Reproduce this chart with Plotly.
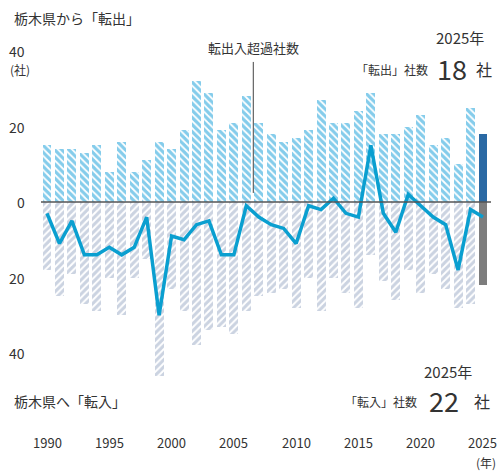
import plotly.graph_objects as go

years = list(range(1990, 2026))
outflow = [15, 14, 14, 13, 15, 8, 16, 8, 11, 16, 14, 19, 32, 29, 19, 21, 28,
           21, 18, 16, 17, 19, 27, 21, 21, 24, 29, 18, 18, 20, 23, 15, 17, 10, 25, 18]
inflow = [18, 25, 19, 27, 29, 20, 30, 20, 15, 46, 23, 29, 38, 34, 33, 35, 29,
          25, 24, 23, 28, 20, 29, 20, 24, 28, 14, 21, 26, 18, 24, 19, 23, 28, 27, 22]
net = [o - i for o, i in zip(outflow, inflow)]
xtick_years = [1990, 1995, 2000, 2005, 2010, 2015, 2020, 2025]
ytick_vals = [40, 20, 0, -20, -40]
ytick_text = ["40", "20", "0", "20", "40"]

FONT = "Noto Sans CJK JP, Noto Sans, sans-serif"
TXT = "#333333"

W, H = 501, 472
ML, MR, MT, MB = 41, 10, 30, 52
PW, PH = W - ML - MR, H - MT - MB


def px(x):
    return (x - ML) / PW


def py(y):
    return (H - MB - y) / PH


n = len(years)
up_colors = ["#84cceb"] * (n - 1) + ["#2a69a4"]
up_shapes = ["\\"] * (n - 1) + [""]
dn_colors = ["#cbd3e1"] * (n - 1) + ["#7d7d7d"]
dn_shapes = ["/"] * (n - 1) + [""]

fig = go.Figure()
fig.add_trace(go.Bar(
    x=years, y=outflow, width=0.72,
    marker=dict(color=up_colors, line=dict(width=0),
                pattern=dict(shape=up_shapes, fgcolor="#0798d2", bgcolor=up_colors,
                             fgopacity=1, size=5, solidity=0.65, fillmode="replace")),
    hoverinfo="skip", showlegend=False))
fig.add_trace(go.Bar(
    x=years, y=[-v for v in inflow], width=0.72,
    marker=dict(color=dn_colors, line=dict(width=0),
                pattern=dict(shape=dn_shapes, fgcolor="#9eafc8", bgcolor=dn_colors,
                             fgopacity=1, size=5, solidity=0.6, fillmode="replace")),
    hoverinfo="skip", showlegend=False))
fig.add_trace(go.Scatter(
    x=years, y=net, mode="lines",
    line=dict(color="#0a9fd0", width=3.5),
    hoverinfo="skip", showlegend=False))

x0 = 1990 - (47 - ML) / 12.457
x1 = 1990 + (W - MR - 47) / 12.457
y_top = (202 - MT) / 3.775
y_bot = -(H - MB - 202) / 3.775

shapes = [
    dict(type="line", xref="paper", yref="y", x0=0, x1=1, y0=0, y1=0,
         line=dict(color="#555555", width=1.5), layer="above"),
    dict(type="line", xref="x", yref="y", x0=2006.56, x1=2006.56, y0=2.4, y1=37.1,
         line=dict(color="#444444", width=1), layer="above"),
]

ann = []


def A(text, x, y, size, xanchor="center", color=TXT, xref="paper", yref="paper"):
    ann.append(dict(text=text, x=x, y=y, xref=xref, yref=yref, showarrow=False,
                    xanchor=xanchor, yanchor="middle",
                    font=dict(family=FONT, size=size, color=color)))


A("栃木県から「転出」", px(12), py(18), 14, "left")
A("(社)", px(20), py(70), 12)
for v, t in zip(ytick_vals, ytick_text):
    ann.append(dict(text=t, x=px(27), y=v, xref="paper", yref="y", showarrow=False,
                    xanchor="right", yanchor="middle",
                    font=dict(family=FONT, size=14, color=TXT)))
A("転出入超過社数", px(253), py(48), 13)
A("2025年", px(486), py(37), 15, "right")
A("「転出」社数", px(430), py(69), 12, "right")
A("18", px(452), py(68), 27)
A("社", px(484), py(69), 16)
A("2025年", px(474), py(371), 15, "right")
A("栃木県へ「転入」", px(12), py(401), 14, "left")
A("「転入」社数", px(419), py(401), 12, "right")
A("22", px(444), py(400), 27)
A("社", px(482), py(401), 16)
for yv in xtick_years:
    ann.append(dict(text=str(yv), x=yv, y=py(442), xref="x", yref="paper",
                    showarrow=False, xanchor="center", yanchor="middle",
                    font=dict(family=FONT, size=13, color=TXT)))
A("(年)", px(486), py(462), 12)

fig.update_layout(
    width=W, height=H,
    margin=dict(l=ML, r=MR, t=MT, b=MB),
    paper_bgcolor="white", plot_bgcolor="white",
    barmode="overlay", bargap=0,
    xaxis=dict(range=[x0, x1], showgrid=False, zeroline=False,
               showticklabels=False, ticks=""),
    yaxis=dict(range=[y_bot, y_top], showgrid=False, zeroline=False,
               showticklabels=False, ticks=""),
    shapes=shapes, annotations=ann,
)

fig.write_html("out.html", config={"displayModeBar": False},
               post_script="document.body.style.margin='0';document.body.style.overflow='hidden';")
